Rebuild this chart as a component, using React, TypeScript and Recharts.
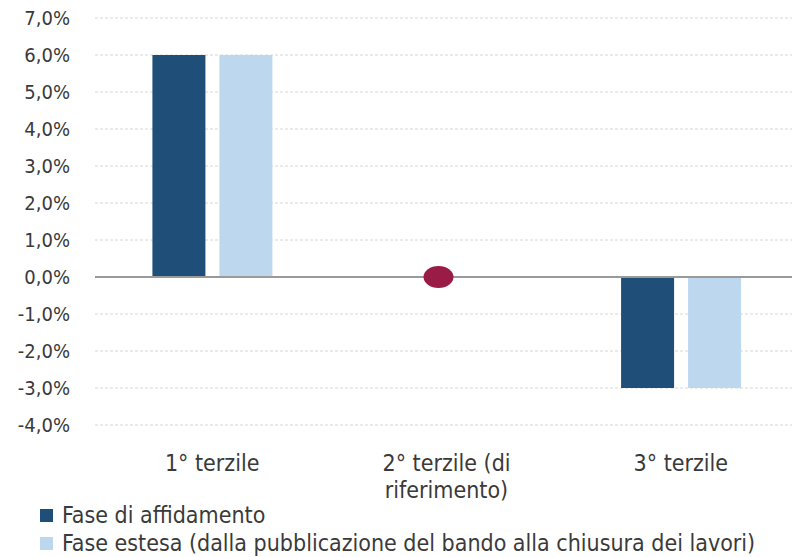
import React from "react";
import {
  ComposedChart, Bar, Line, XAxis, YAxis, CartesianGrid, ReferenceLine,
} from "recharts";

const categories = ["1° terzile", "2° terzile (di\nriferimento)", "3° terzile"];
const affidamento = [6.0, 0, -3.0];
const estesa = [6.0, 0, -3.0];
const riferimento = [null, 0, null];
const yTicks = [-4, -3, -2, -1, 0, 1, 2, 3, 4, 5, 6, 7];
const seriesNames = [
  "Fase di affidamento",
  "Fase estesa (dalla pubblicazione del bando alla chiusura dei lavori)",
];

const FONT = "'Liberation Sans Narrow', 'DejaVu Sans Condensed', Lato, sans-serif";
const DARK = "#1F4E79";
const LIGHT = "#BDD7EE";

const data = categories.map((c, i) => ({
  cat: c,
  aff: affidamento[i],
  est: estesa[i],
  rif: riferimento[i],
}));

function fmt(v: number) {
  return `${v.toFixed(1).replace(".", ",")}%`;
}

function CatTick(props: any) {
  const { x, y, payload } = props;
  const lines = String(payload.value).split("\n");
  return (
    <text x={x} y={y} textAnchor="middle" fill="#3a3a3a" fontSize={23} fontFamily={FONT}>
      {lines.map((l, i) => (
        <tspan key={i} x={x} dy={i === 0 ? 38 : 27}>{l}</tspan>
      ))}
    </text>
  );
}

function RifDot(props: any) {
  const { cx, cy, value } = props;
  if (value === null || value === undefined || cx == null) return <g key={props.index} />;
  return <ellipse key={props.index} cx={cx - 8} cy={cy} rx={15} ry={11} fill="#9A1C46" />;
}

export default function App() {
  return (
    <div style={{ position: "absolute", left: 0, top: 0, width: 792, height: 557, background: "#fff", overflow: "hidden" }}>
      <ComposedChart
        width={798}
        height={557}
        data={data}
        margin={{ top: 18, right: 0, left: 0, bottom: 0 }}
        barGap={14}
        barCategoryGap="24.5%"
      >
        <CartesianGrid vertical={false} stroke="#d6d6d6" strokeDasharray="3 2" />
        <XAxis
          dataKey="cat"
          axisLine={false}
          tickLine={false}
          height={132}
          tick={<CatTick />}
          interval={0}
        />
        <YAxis
          domain={[-4, 7]}
          ticks={yTicks}
          tickFormatter={fmt}
          axisLine={false}
          tickLine={false}
          width={95}
          tickMargin={19}
          tick={{ fontSize: 20, fill: "#3a3a3a", fontFamily: FONT }}
        />
        <ReferenceLine y={0} stroke="#9a9a9a" strokeWidth={2} />
        <Bar dataKey="aff" name={seriesNames[0]} fill={DARK} isAnimationActive={false} />
        <Bar dataKey="est" name={seriesNames[1]} fill={LIGHT} isAnimationActive={false} />
        <Line
          dataKey="rif"
          stroke="none"
          dot={<RifDot />}
          activeDot={false}
          legendType="none"
          isAnimationActive={false}
        />
      </ComposedChart>
      {seriesNames.map((n, i) => (
        <div
          key={n}
          style={{
            position: "absolute", left: 40, top: 504 + i * 28, height: 22,
            display: "flex", alignItems: "center", whiteSpace: "nowrap",
            fontFamily: FONT, fontSize: 23, color: "#3a3a3a", lineHeight: "22px",
          }}
        >
          <span style={{ display: "inline-block", width: 13, height: 13, background: i === 0 ? DARK : LIGHT, marginRight: 9 }} />
          {n}
        </div>
      ))}
    </div>
  );
}
